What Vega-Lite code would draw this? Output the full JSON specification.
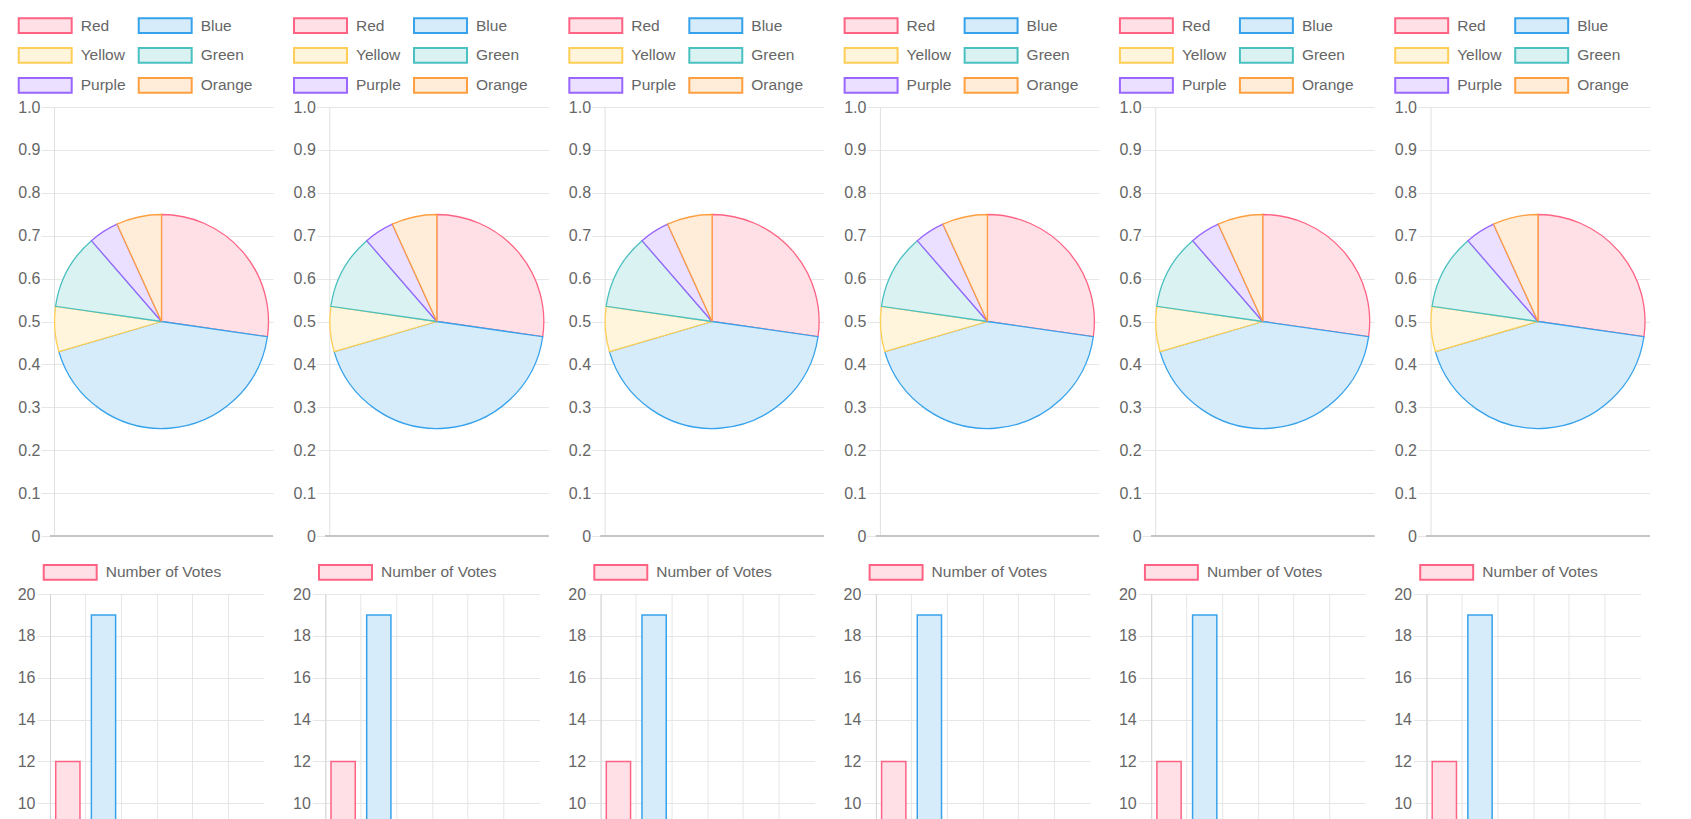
{
  "$schema": "https://vega.github.io/schema/vega-lite/v6.json",
  "padding": {"left": 13, "top": 16, "right": 0, "bottom": 0},
  "background": "white",
  "config": {"view": {"stroke": null}, "font": "Liberation Sans"},
  "datasets": {
    "votes": [
      {"label": "Red", "votes": 12, "rank": 1},
      {"label": "Blue", "votes": 19, "rank": 2},
      {"label": "Yellow", "votes": 3, "rank": 3},
      {"label": "Green", "votes": 5, "rank": 4},
      {"label": "Purple", "votes": 2, "rank": 5},
      {"label": "Orange", "votes": 3, "rank": 6}
    ]
  },
  "spacing": 19,
  "columns": 1,
  "align": "none",
  "resolve": {
    "scale": {"x": "independent", "y": "independent", "fill": "independent", "stroke": "independent", "strokeDash": "independent"},
    "legend": {"fill": "independent", "stroke": "independent", "strokeDash": "independent"}
  },
  "concat": [
    {
      "spacing": 52.3,
      "bounds": "flush",
      "resolve": {
        "scale": {"x": "independent", "y": "independent", "fill": "independent", "stroke": "independent"},
        "legend": {"fill": "independent", "stroke": "independent"}
      },
      "hconcat": [
        {"width": 223, "height": 429, "data": {"name": "votes"}, "layer": [
          {"mark": {"type": "arc", "outerRadius": 107, "strokeWidth": 1.3},
           "encoding": {
             "theta": {"field": "votes", "type": "quantitative", "stack": true},
             "order": {"field": "rank", "type": "quantitative"},
             "fill": {"field": "label", "type": "nominal", "scale": {"domain": ["Red","Blue","Yellow","Green","Purple","Orange"], "range": ["#ffe0e6","#d7ecfb","#fff5dd","#dbf2f2","#ebe0ff","#ffecd9"]},
               "legend": {"title": null, "orient": "none", "legendX": -32.3, "legendY": -90.7, "direction": "horizontal", "columns": 2, "gridAlign": "each", "padding": 0, "rowPadding": 6, "columnPadding": 9, "symbolType": "M-3.31,-0.92L3.31,-0.92L3.31,0.92L-3.31,0.92Z", "symbolSize": 256, "symbolStrokeWidth": 2, "symbolOffset": 18.5, "labelOffset": 26.5, "labelFont": "Liberation Sans", "labelFontSize": 15.5, "labelColor": "#666666", "labelLimit": 300}},
             "stroke": {"field": "label", "type": "nominal", "scale": {"domain": ["Red","Blue","Yellow","Green","Purple","Orange"], "range": ["#ff6384","#36a2eb","#ffce56","#4bc0c0","#9966ff","#ff9f40"]},
               "legend": {"title": null, "orient": "none", "legendX": -32.3, "legendY": -90.7, "direction": "horizontal", "columns": 2, "gridAlign": "each", "padding": 0, "rowPadding": 6, "columnPadding": 9, "symbolType": "M-3.31,-0.92L3.31,-0.92L3.31,0.92L-3.31,0.92Z", "symbolSize": 256, "symbolStrokeWidth": 2, "symbolOffset": 18.5, "labelOffset": 26.5, "labelFont": "Liberation Sans", "labelFontSize": 15.5, "labelColor": "#666666", "labelLimit": 300}}
           }},
          {"mark": {"type": "rule", "color": "#c4c4c4", "strokeWidth": 1.3},
           "encoding": {"y": {"datum": 0, "type": "quantitative", "scale": {"domain": [0, 1]},
             "axis": {"title": null, "offset": -4, "values": [0,0.1,0.2,0.3,0.4,0.5,0.6,0.7,0.8,0.9,1], "labelExpr": "datum.value === 0 ? '0' : format(datum.value, '.1f')", "grid": true, "gridColor": "#e6e6e6", "tickColor": "#e6e6e6", "domainColor": "#e0e0e0", "tickSize": 13, "labelPadding": 1, "labelFont": "Liberation Sans", "labelFontSize": 16, "labelColor": "#666666"}}}}
        ]},
        {"width": 223, "height": 429, "data": {"name": "votes"}, "layer": [
          {"mark": {"type": "arc", "outerRadius": 107, "strokeWidth": 1.3},
           "encoding": {
             "theta": {"field": "votes", "type": "quantitative", "stack": true},
             "order": {"field": "rank", "type": "quantitative"},
             "fill": {"field": "label", "type": "nominal", "scale": {"domain": ["Red","Blue","Yellow","Green","Purple","Orange"], "range": ["#ffe0e6","#d7ecfb","#fff5dd","#dbf2f2","#ebe0ff","#ffecd9"]},
               "legend": {"title": null, "orient": "none", "legendX": -32.3, "legendY": -90.7, "direction": "horizontal", "columns": 2, "gridAlign": "each", "padding": 0, "rowPadding": 6, "columnPadding": 9, "symbolType": "M-3.31,-0.92L3.31,-0.92L3.31,0.92L-3.31,0.92Z", "symbolSize": 256, "symbolStrokeWidth": 2, "symbolOffset": 18.5, "labelOffset": 26.5, "labelFont": "Liberation Sans", "labelFontSize": 15.5, "labelColor": "#666666", "labelLimit": 300}},
             "stroke": {"field": "label", "type": "nominal", "scale": {"domain": ["Red","Blue","Yellow","Green","Purple","Orange"], "range": ["#ff6384","#36a2eb","#ffce56","#4bc0c0","#9966ff","#ff9f40"]},
               "legend": {"title": null, "orient": "none", "legendX": -32.3, "legendY": -90.7, "direction": "horizontal", "columns": 2, "gridAlign": "each", "padding": 0, "rowPadding": 6, "columnPadding": 9, "symbolType": "M-3.31,-0.92L3.31,-0.92L3.31,0.92L-3.31,0.92Z", "symbolSize": 256, "symbolStrokeWidth": 2, "symbolOffset": 18.5, "labelOffset": 26.5, "labelFont": "Liberation Sans", "labelFontSize": 15.5, "labelColor": "#666666", "labelLimit": 300}}
           }},
          {"mark": {"type": "rule", "color": "#c4c4c4", "strokeWidth": 1.3},
           "encoding": {"y": {"datum": 0, "type": "quantitative", "scale": {"domain": [0, 1]},
             "axis": {"title": null, "offset": -4, "values": [0,0.1,0.2,0.3,0.4,0.5,0.6,0.7,0.8,0.9,1], "labelExpr": "datum.value === 0 ? '0' : format(datum.value, '.1f')", "grid": true, "gridColor": "#e6e6e6", "tickColor": "#e6e6e6", "domainColor": "#e0e0e0", "tickSize": 13, "labelPadding": 1, "labelFont": "Liberation Sans", "labelFontSize": 16, "labelColor": "#666666"}}}}
        ]},
        {"width": 223, "height": 429, "data": {"name": "votes"}, "layer": [
          {"mark": {"type": "arc", "outerRadius": 107, "strokeWidth": 1.3},
           "encoding": {
             "theta": {"field": "votes", "type": "quantitative", "stack": true},
             "order": {"field": "rank", "type": "quantitative"},
             "fill": {"field": "label", "type": "nominal", "scale": {"domain": ["Red","Blue","Yellow","Green","Purple","Orange"], "range": ["#ffe0e6","#d7ecfb","#fff5dd","#dbf2f2","#ebe0ff","#ffecd9"]},
               "legend": {"title": null, "orient": "none", "legendX": -32.3, "legendY": -90.7, "direction": "horizontal", "columns": 2, "gridAlign": "each", "padding": 0, "rowPadding": 6, "columnPadding": 9, "symbolType": "M-3.31,-0.92L3.31,-0.92L3.31,0.92L-3.31,0.92Z", "symbolSize": 256, "symbolStrokeWidth": 2, "symbolOffset": 18.5, "labelOffset": 26.5, "labelFont": "Liberation Sans", "labelFontSize": 15.5, "labelColor": "#666666", "labelLimit": 300}},
             "stroke": {"field": "label", "type": "nominal", "scale": {"domain": ["Red","Blue","Yellow","Green","Purple","Orange"], "range": ["#ff6384","#36a2eb","#ffce56","#4bc0c0","#9966ff","#ff9f40"]},
               "legend": {"title": null, "orient": "none", "legendX": -32.3, "legendY": -90.7, "direction": "horizontal", "columns": 2, "gridAlign": "each", "padding": 0, "rowPadding": 6, "columnPadding": 9, "symbolType": "M-3.31,-0.92L3.31,-0.92L3.31,0.92L-3.31,0.92Z", "symbolSize": 256, "symbolStrokeWidth": 2, "symbolOffset": 18.5, "labelOffset": 26.5, "labelFont": "Liberation Sans", "labelFontSize": 15.5, "labelColor": "#666666", "labelLimit": 300}}
           }},
          {"mark": {"type": "rule", "color": "#c4c4c4", "strokeWidth": 1.3},
           "encoding": {"y": {"datum": 0, "type": "quantitative", "scale": {"domain": [0, 1]},
             "axis": {"title": null, "offset": -4, "values": [0,0.1,0.2,0.3,0.4,0.5,0.6,0.7,0.8,0.9,1], "labelExpr": "datum.value === 0 ? '0' : format(datum.value, '.1f')", "grid": true, "gridColor": "#e6e6e6", "tickColor": "#e6e6e6", "domainColor": "#e0e0e0", "tickSize": 13, "labelPadding": 1, "labelFont": "Liberation Sans", "labelFontSize": 16, "labelColor": "#666666"}}}}
        ]},
        {"width": 223, "height": 429, "data": {"name": "votes"}, "layer": [
          {"mark": {"type": "arc", "outerRadius": 107, "strokeWidth": 1.3},
           "encoding": {
             "theta": {"field": "votes", "type": "quantitative", "stack": true},
             "order": {"field": "rank", "type": "quantitative"},
             "fill": {"field": "label", "type": "nominal", "scale": {"domain": ["Red","Blue","Yellow","Green","Purple","Orange"], "range": ["#ffe0e6","#d7ecfb","#fff5dd","#dbf2f2","#ebe0ff","#ffecd9"]},
               "legend": {"title": null, "orient": "none", "legendX": -32.3, "legendY": -90.7, "direction": "horizontal", "columns": 2, "gridAlign": "each", "padding": 0, "rowPadding": 6, "columnPadding": 9, "symbolType": "M-3.31,-0.92L3.31,-0.92L3.31,0.92L-3.31,0.92Z", "symbolSize": 256, "symbolStrokeWidth": 2, "symbolOffset": 18.5, "labelOffset": 26.5, "labelFont": "Liberation Sans", "labelFontSize": 15.5, "labelColor": "#666666", "labelLimit": 300}},
             "stroke": {"field": "label", "type": "nominal", "scale": {"domain": ["Red","Blue","Yellow","Green","Purple","Orange"], "range": ["#ff6384","#36a2eb","#ffce56","#4bc0c0","#9966ff","#ff9f40"]},
               "legend": {"title": null, "orient": "none", "legendX": -32.3, "legendY": -90.7, "direction": "horizontal", "columns": 2, "gridAlign": "each", "padding": 0, "rowPadding": 6, "columnPadding": 9, "symbolType": "M-3.31,-0.92L3.31,-0.92L3.31,0.92L-3.31,0.92Z", "symbolSize": 256, "symbolStrokeWidth": 2, "symbolOffset": 18.5, "labelOffset": 26.5, "labelFont": "Liberation Sans", "labelFontSize": 15.5, "labelColor": "#666666", "labelLimit": 300}}
           }},
          {"mark": {"type": "rule", "color": "#c4c4c4", "strokeWidth": 1.3},
           "encoding": {"y": {"datum": 0, "type": "quantitative", "scale": {"domain": [0, 1]},
             "axis": {"title": null, "offset": -4, "values": [0,0.1,0.2,0.3,0.4,0.5,0.6,0.7,0.8,0.9,1], "labelExpr": "datum.value === 0 ? '0' : format(datum.value, '.1f')", "grid": true, "gridColor": "#e6e6e6", "tickColor": "#e6e6e6", "domainColor": "#e0e0e0", "tickSize": 13, "labelPadding": 1, "labelFont": "Liberation Sans", "labelFontSize": 16, "labelColor": "#666666"}}}}
        ]},
        {"width": 223, "height": 429, "data": {"name": "votes"}, "layer": [
          {"mark": {"type": "arc", "outerRadius": 107, "strokeWidth": 1.3},
           "encoding": {
             "theta": {"field": "votes", "type": "quantitative", "stack": true},
             "order": {"field": "rank", "type": "quantitative"},
             "fill": {"field": "label", "type": "nominal", "scale": {"domain": ["Red","Blue","Yellow","Green","Purple","Orange"], "range": ["#ffe0e6","#d7ecfb","#fff5dd","#dbf2f2","#ebe0ff","#ffecd9"]},
               "legend": {"title": null, "orient": "none", "legendX": -32.3, "legendY": -90.7, "direction": "horizontal", "columns": 2, "gridAlign": "each", "padding": 0, "rowPadding": 6, "columnPadding": 9, "symbolType": "M-3.31,-0.92L3.31,-0.92L3.31,0.92L-3.31,0.92Z", "symbolSize": 256, "symbolStrokeWidth": 2, "symbolOffset": 18.5, "labelOffset": 26.5, "labelFont": "Liberation Sans", "labelFontSize": 15.5, "labelColor": "#666666", "labelLimit": 300}},
             "stroke": {"field": "label", "type": "nominal", "scale": {"domain": ["Red","Blue","Yellow","Green","Purple","Orange"], "range": ["#ff6384","#36a2eb","#ffce56","#4bc0c0","#9966ff","#ff9f40"]},
               "legend": {"title": null, "orient": "none", "legendX": -32.3, "legendY": -90.7, "direction": "horizontal", "columns": 2, "gridAlign": "each", "padding": 0, "rowPadding": 6, "columnPadding": 9, "symbolType": "M-3.31,-0.92L3.31,-0.92L3.31,0.92L-3.31,0.92Z", "symbolSize": 256, "symbolStrokeWidth": 2, "symbolOffset": 18.5, "labelOffset": 26.5, "labelFont": "Liberation Sans", "labelFontSize": 15.5, "labelColor": "#666666", "labelLimit": 300}}
           }},
          {"mark": {"type": "rule", "color": "#c4c4c4", "strokeWidth": 1.3},
           "encoding": {"y": {"datum": 0, "type": "quantitative", "scale": {"domain": [0, 1]},
             "axis": {"title": null, "offset": -4, "values": [0,0.1,0.2,0.3,0.4,0.5,0.6,0.7,0.8,0.9,1], "labelExpr": "datum.value === 0 ? '0' : format(datum.value, '.1f')", "grid": true, "gridColor": "#e6e6e6", "tickColor": "#e6e6e6", "domainColor": "#e0e0e0", "tickSize": 13, "labelPadding": 1, "labelFont": "Liberation Sans", "labelFontSize": 16, "labelColor": "#666666"}}}}
        ]},
        {"width": 223, "height": 429, "data": {"name": "votes"}, "layer": [
          {"mark": {"type": "arc", "outerRadius": 107, "strokeWidth": 1.3},
           "encoding": {
             "theta": {"field": "votes", "type": "quantitative", "stack": true},
             "order": {"field": "rank", "type": "quantitative"},
             "fill": {"field": "label", "type": "nominal", "scale": {"domain": ["Red","Blue","Yellow","Green","Purple","Orange"], "range": ["#ffe0e6","#d7ecfb","#fff5dd","#dbf2f2","#ebe0ff","#ffecd9"]},
               "legend": {"title": null, "orient": "none", "legendX": -32.3, "legendY": -90.7, "direction": "horizontal", "columns": 2, "gridAlign": "each", "padding": 0, "rowPadding": 6, "columnPadding": 9, "symbolType": "M-3.31,-0.92L3.31,-0.92L3.31,0.92L-3.31,0.92Z", "symbolSize": 256, "symbolStrokeWidth": 2, "symbolOffset": 18.5, "labelOffset": 26.5, "labelFont": "Liberation Sans", "labelFontSize": 15.5, "labelColor": "#666666", "labelLimit": 300}},
             "stroke": {"field": "label", "type": "nominal", "scale": {"domain": ["Red","Blue","Yellow","Green","Purple","Orange"], "range": ["#ff6384","#36a2eb","#ffce56","#4bc0c0","#9966ff","#ff9f40"]},
               "legend": {"title": null, "orient": "none", "legendX": -32.3, "legendY": -90.7, "direction": "horizontal", "columns": 2, "gridAlign": "each", "padding": 0, "rowPadding": 6, "columnPadding": 9, "symbolType": "M-3.31,-0.92L3.31,-0.92L3.31,0.92L-3.31,0.92Z", "symbolSize": 256, "symbolStrokeWidth": 2, "symbolOffset": 18.5, "labelOffset": 26.5, "labelFont": "Liberation Sans", "labelFontSize": 15.5, "labelColor": "#666666", "labelLimit": 300}}
           }},
          {"mark": {"type": "rule", "color": "#c4c4c4", "strokeWidth": 1.3},
           "encoding": {"y": {"datum": 0, "type": "quantitative", "scale": {"domain": [0, 1]},
             "axis": {"title": null, "offset": -4, "values": [0,0.1,0.2,0.3,0.4,0.5,0.6,0.7,0.8,0.9,1], "labelExpr": "datum.value === 0 ? '0' : format(datum.value, '.1f')", "grid": true, "gridColor": "#e6e6e6", "tickColor": "#e6e6e6", "domainColor": "#e0e0e0", "tickSize": 13, "labelPadding": 1, "labelFont": "Liberation Sans", "labelFontSize": 16, "labelColor": "#666666"}}}}
        ]}
      ]
    },
    {
      "spacing": 61.3,
      "bounds": "flush",
      "resolve": {
        "scale": {"x": "independent", "y": "independent", "fill": "independent", "stroke": "independent", "strokeDash": "independent"},
        "legend": {"fill": "independent", "stroke": "independent", "strokeDash": "independent"}
      },
      "hconcat": [
        {"width": 214, "height": 225, "data": {"name": "votes"},
         "mark": {"type": "bar", "clip": true, "strokeWidth": 1.5, "width": {"band": 0.68}},
         "encoding": {
           "x": {"field": "label", "type": "nominal", "sort": ["Red","Blue","Yellow","Green","Purple","Orange"], "scale": {"paddingInner": 0, "paddingOuter": 0},
             "axis": {"title": null, "labels": false, "ticks": false, "domain": false, "grid": true, "bandPosition": 0, "gridColor": "#e6e6e6"}},
           "y": {"field": "votes", "type": "quantitative", "scale": {"domain": [9.25, 20]},
             "axis": {"title": null, "values": [10,12,14,16,18,20], "grid": true, "gridColor": "#e6e6e6", "tickColor": "#e6e6e6", "domainColor": "#d4d4d4", "tickSize": 13, "labelPadding": 2, "labelFont": "Liberation Sans", "labelFontSize": 16, "labelColor": "#666666", "minExtent": 36.3}},
           "fill": {"field": "label", "type": "nominal", "scale": {"domain": ["Red","Blue","Yellow","Green","Purple","Orange"], "range": ["#ffe0e6","#d7ecfb","#fff5dd","#dbf2f2","#ebe0ff","#ffecd9"]}, "legend": null},
           "stroke": {"field": "label", "type": "nominal", "scale": {"domain": ["Red","Blue","Yellow","Green","Purple","Orange"], "range": ["#ff6384","#36a2eb","#ffce56","#4bc0c0","#9966ff","#ff9f40"]}, "legend": null},
           "strokeDash": {"datum": "Number of Votes", "type": "nominal", "scale": {"range": [[1, 0]]},
             "legend": {"title": null, "orient": "none", "legendX": -7.3, "legendY": -30.6, "padding": 0, "symbolType": "M-3.31,-0.92L3.31,-0.92L3.31,0.92L-3.31,0.92Z", "symbolSize": 256, "symbolStrokeWidth": 2, "symbolOffset": 18.5, "labelOffset": 26.5, "labelFont": "Liberation Sans", "labelFontSize": 15.5, "labelColor": "#666666", "labelLimit": 300, "symbolFillColor": "#ffe0e6", "symbolStrokeColor": "#ff6384", "symbolOpacity": 1}}
         }},
        {"width": 214, "height": 225, "data": {"name": "votes"},
         "mark": {"type": "bar", "clip": true, "strokeWidth": 1.5, "width": {"band": 0.68}},
         "encoding": {
           "x": {"field": "label", "type": "nominal", "sort": ["Red","Blue","Yellow","Green","Purple","Orange"], "scale": {"paddingInner": 0, "paddingOuter": 0},
             "axis": {"title": null, "labels": false, "ticks": false, "domain": false, "grid": true, "bandPosition": 0, "gridColor": "#e6e6e6"}},
           "y": {"field": "votes", "type": "quantitative", "scale": {"domain": [9.25, 20]},
             "axis": {"title": null, "values": [10,12,14,16,18,20], "grid": true, "gridColor": "#e6e6e6", "tickColor": "#e6e6e6", "domainColor": "#d4d4d4", "tickSize": 13, "labelPadding": 2, "labelFont": "Liberation Sans", "labelFontSize": 16, "labelColor": "#666666", "minExtent": 36.3}},
           "fill": {"field": "label", "type": "nominal", "scale": {"domain": ["Red","Blue","Yellow","Green","Purple","Orange"], "range": ["#ffe0e6","#d7ecfb","#fff5dd","#dbf2f2","#ebe0ff","#ffecd9"]}, "legend": null},
           "stroke": {"field": "label", "type": "nominal", "scale": {"domain": ["Red","Blue","Yellow","Green","Purple","Orange"], "range": ["#ff6384","#36a2eb","#ffce56","#4bc0c0","#9966ff","#ff9f40"]}, "legend": null},
           "strokeDash": {"datum": "Number of Votes", "type": "nominal", "scale": {"range": [[1, 0]]},
             "legend": {"title": null, "orient": "none", "legendX": -7.3, "legendY": -30.6, "padding": 0, "symbolType": "M-3.31,-0.92L3.31,-0.92L3.31,0.92L-3.31,0.92Z", "symbolSize": 256, "symbolStrokeWidth": 2, "symbolOffset": 18.5, "labelOffset": 26.5, "labelFont": "Liberation Sans", "labelFontSize": 15.5, "labelColor": "#666666", "labelLimit": 300, "symbolFillColor": "#ffe0e6", "symbolStrokeColor": "#ff6384", "symbolOpacity": 1}}
         }},
        {"width": 214, "height": 225, "data": {"name": "votes"},
         "mark": {"type": "bar", "clip": true, "strokeWidth": 1.5, "width": {"band": 0.68}},
         "encoding": {
           "x": {"field": "label", "type": "nominal", "sort": ["Red","Blue","Yellow","Green","Purple","Orange"], "scale": {"paddingInner": 0, "paddingOuter": 0},
             "axis": {"title": null, "labels": false, "ticks": false, "domain": false, "grid": true, "bandPosition": 0, "gridColor": "#e6e6e6"}},
           "y": {"field": "votes", "type": "quantitative", "scale": {"domain": [9.25, 20]},
             "axis": {"title": null, "values": [10,12,14,16,18,20], "grid": true, "gridColor": "#e6e6e6", "tickColor": "#e6e6e6", "domainColor": "#d4d4d4", "tickSize": 13, "labelPadding": 2, "labelFont": "Liberation Sans", "labelFontSize": 16, "labelColor": "#666666", "minExtent": 36.3}},
           "fill": {"field": "label", "type": "nominal", "scale": {"domain": ["Red","Blue","Yellow","Green","Purple","Orange"], "range": ["#ffe0e6","#d7ecfb","#fff5dd","#dbf2f2","#ebe0ff","#ffecd9"]}, "legend": null},
           "stroke": {"field": "label", "type": "nominal", "scale": {"domain": ["Red","Blue","Yellow","Green","Purple","Orange"], "range": ["#ff6384","#36a2eb","#ffce56","#4bc0c0","#9966ff","#ff9f40"]}, "legend": null},
           "strokeDash": {"datum": "Number of Votes", "type": "nominal", "scale": {"range": [[1, 0]]},
             "legend": {"title": null, "orient": "none", "legendX": -7.3, "legendY": -30.6, "padding": 0, "symbolType": "M-3.31,-0.92L3.31,-0.92L3.31,0.92L-3.31,0.92Z", "symbolSize": 256, "symbolStrokeWidth": 2, "symbolOffset": 18.5, "labelOffset": 26.5, "labelFont": "Liberation Sans", "labelFontSize": 15.5, "labelColor": "#666666", "labelLimit": 300, "symbolFillColor": "#ffe0e6", "symbolStrokeColor": "#ff6384", "symbolOpacity": 1}}
         }},
        {"width": 214, "height": 225, "data": {"name": "votes"},
         "mark": {"type": "bar", "clip": true, "strokeWidth": 1.5, "width": {"band": 0.68}},
         "encoding": {
           "x": {"field": "label", "type": "nominal", "sort": ["Red","Blue","Yellow","Green","Purple","Orange"], "scale": {"paddingInner": 0, "paddingOuter": 0},
             "axis": {"title": null, "labels": false, "ticks": false, "domain": false, "grid": true, "bandPosition": 0, "gridColor": "#e6e6e6"}},
           "y": {"field": "votes", "type": "quantitative", "scale": {"domain": [9.25, 20]},
             "axis": {"title": null, "values": [10,12,14,16,18,20], "grid": true, "gridColor": "#e6e6e6", "tickColor": "#e6e6e6", "domainColor": "#d4d4d4", "tickSize": 13, "labelPadding": 2, "labelFont": "Liberation Sans", "labelFontSize": 16, "labelColor": "#666666", "minExtent": 36.3}},
           "fill": {"field": "label", "type": "nominal", "scale": {"domain": ["Red","Blue","Yellow","Green","Purple","Orange"], "range": ["#ffe0e6","#d7ecfb","#fff5dd","#dbf2f2","#ebe0ff","#ffecd9"]}, "legend": null},
           "stroke": {"field": "label", "type": "nominal", "scale": {"domain": ["Red","Blue","Yellow","Green","Purple","Orange"], "range": ["#ff6384","#36a2eb","#ffce56","#4bc0c0","#9966ff","#ff9f40"]}, "legend": null},
           "strokeDash": {"datum": "Number of Votes", "type": "nominal", "scale": {"range": [[1, 0]]},
             "legend": {"title": null, "orient": "none", "legendX": -7.3, "legendY": -30.6, "padding": 0, "symbolType": "M-3.31,-0.92L3.31,-0.92L3.31,0.92L-3.31,0.92Z", "symbolSize": 256, "symbolStrokeWidth": 2, "symbolOffset": 18.5, "labelOffset": 26.5, "labelFont": "Liberation Sans", "labelFontSize": 15.5, "labelColor": "#666666", "labelLimit": 300, "symbolFillColor": "#ffe0e6", "symbolStrokeColor": "#ff6384", "symbolOpacity": 1}}
         }},
        {"width": 214, "height": 225, "data": {"name": "votes"},
         "mark": {"type": "bar", "clip": true, "strokeWidth": 1.5, "width": {"band": 0.68}},
         "encoding": {
           "x": {"field": "label", "type": "nominal", "sort": ["Red","Blue","Yellow","Green","Purple","Orange"], "scale": {"paddingInner": 0, "paddingOuter": 0},
             "axis": {"title": null, "labels": false, "ticks": false, "domain": false, "grid": true, "bandPosition": 0, "gridColor": "#e6e6e6"}},
           "y": {"field": "votes", "type": "quantitative", "scale": {"domain": [9.25, 20]},
             "axis": {"title": null, "values": [10,12,14,16,18,20], "grid": true, "gridColor": "#e6e6e6", "tickColor": "#e6e6e6", "domainColor": "#d4d4d4", "tickSize": 13, "labelPadding": 2, "labelFont": "Liberation Sans", "labelFontSize": 16, "labelColor": "#666666", "minExtent": 36.3}},
           "fill": {"field": "label", "type": "nominal", "scale": {"domain": ["Red","Blue","Yellow","Green","Purple","Orange"], "range": ["#ffe0e6","#d7ecfb","#fff5dd","#dbf2f2","#ebe0ff","#ffecd9"]}, "legend": null},
           "stroke": {"field": "label", "type": "nominal", "scale": {"domain": ["Red","Blue","Yellow","Green","Purple","Orange"], "range": ["#ff6384","#36a2eb","#ffce56","#4bc0c0","#9966ff","#ff9f40"]}, "legend": null},
           "strokeDash": {"datum": "Number of Votes", "type": "nominal", "scale": {"range": [[1, 0]]},
             "legend": {"title": null, "orient": "none", "legendX": -7.3, "legendY": -30.6, "padding": 0, "symbolType": "M-3.31,-0.92L3.31,-0.92L3.31,0.92L-3.31,0.92Z", "symbolSize": 256, "symbolStrokeWidth": 2, "symbolOffset": 18.5, "labelOffset": 26.5, "labelFont": "Liberation Sans", "labelFontSize": 15.5, "labelColor": "#666666", "labelLimit": 300, "symbolFillColor": "#ffe0e6", "symbolStrokeColor": "#ff6384", "symbolOpacity": 1}}
         }},
        {"width": 214, "height": 225, "data": {"name": "votes"},
         "mark": {"type": "bar", "clip": true, "strokeWidth": 1.5, "width": {"band": 0.68}},
         "encoding": {
           "x": {"field": "label", "type": "nominal", "sort": ["Red","Blue","Yellow","Green","Purple","Orange"], "scale": {"paddingInner": 0, "paddingOuter": 0},
             "axis": {"title": null, "labels": false, "ticks": false, "domain": false, "grid": true, "bandPosition": 0, "gridColor": "#e6e6e6"}},
           "y": {"field": "votes", "type": "quantitative", "scale": {"domain": [9.25, 20]},
             "axis": {"title": null, "values": [10,12,14,16,18,20], "grid": true, "gridColor": "#e6e6e6", "tickColor": "#e6e6e6", "domainColor": "#d4d4d4", "tickSize": 13, "labelPadding": 2, "labelFont": "Liberation Sans", "labelFontSize": 16, "labelColor": "#666666", "minExtent": 36.3}},
           "fill": {"field": "label", "type": "nominal", "scale": {"domain": ["Red","Blue","Yellow","Green","Purple","Orange"], "range": ["#ffe0e6","#d7ecfb","#fff5dd","#dbf2f2","#ebe0ff","#ffecd9"]}, "legend": null},
           "stroke": {"field": "label", "type": "nominal", "scale": {"domain": ["Red","Blue","Yellow","Green","Purple","Orange"], "range": ["#ff6384","#36a2eb","#ffce56","#4bc0c0","#9966ff","#ff9f40"]}, "legend": null},
           "strokeDash": {"datum": "Number of Votes", "type": "nominal", "scale": {"range": [[1, 0]]},
             "legend": {"title": null, "orient": "none", "legendX": -7.3, "legendY": -30.6, "padding": 0, "symbolType": "M-3.31,-0.92L3.31,-0.92L3.31,0.92L-3.31,0.92Z", "symbolSize": 256, "symbolStrokeWidth": 2, "symbolOffset": 18.5, "labelOffset": 26.5, "labelFont": "Liberation Sans", "labelFontSize": 15.5, "labelColor": "#666666", "labelLimit": 300, "symbolFillColor": "#ffe0e6", "symbolStrokeColor": "#ff6384", "symbolOpacity": 1}}
         }}
      ]
    }
  ]
}
